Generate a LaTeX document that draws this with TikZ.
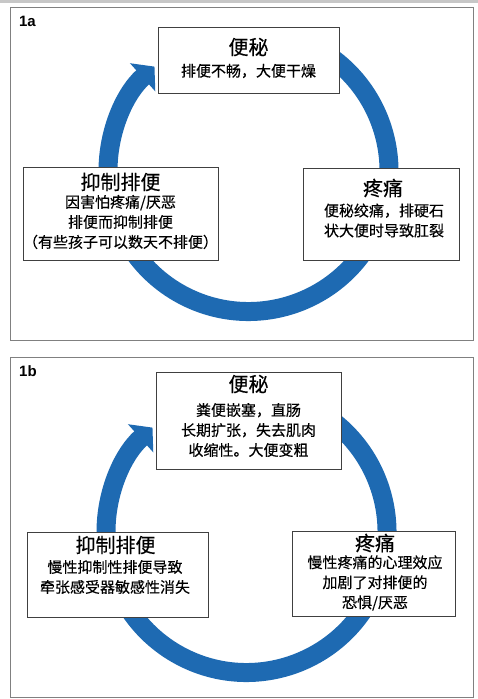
\documentclass[tikz,border=0pt]{standalone}
\usepackage{fontspec}
\setmainfont{Noto Sans CJK SC}[FakeBold=0.3]
\newfontfamily\tagfont{Liberation Sans}
\usetikzlibrary{arrows.meta}
\definecolor{ringblue}{RGB}{30,106,178}
\tikzset{
	panel/.style={draw=black!50, line width=1pt},
	box/.style={draw=black!75, fill=white, line width=0.9pt, inner sep=0pt},
	ttl/.style={font=\fontsize{20}{23}\selectfont},
	txt/.style={font=\fontsize{15}{20}\selectfont, align=center},
	tag/.style={font=\tagfont\bfseries\fontsize{15}{15}\selectfont},
	loopring/.style={ringblue, line width=19pt, -{Triangle[length=16pt,width=37pt]}}
}
\def\ringarc(#1){\draw[loopring] (#1) ++(-62:140.5) arc (-62:228:140.5);}

\begin{document}
\begin{tikzpicture}[x=1pt, y=-1pt]
		%%%%% START %%%%%
		\useasboundingbox (0, 0) rectangle (478, 699);
		\fill[black!22] (0, 0) rectangle (478, 3);
		
		%% panel 1a
		\draw[panel] (10, 7) rectangle (473, 340);
		\node[tag] (tagA) at (27.5, 21.5) {1a};
		\coordinate (ctrA) at (248.5, 171);
		\ringarc(ctrA)
		
		\node[box, minimum width=181pt, minimum height=66pt] (aTop) at (248.5, 60) {};
		\node[ttl] (aTopT) at (248.5, 47) {便秘};
		\node[txt] (aTopB) at (248.5, 71) {排便不畅，大便干燥};
		
		\node[box, minimum width=195pt, minimum height=93pt] (aLeft) at (120.5, 213.5) {};
		\node[ttl] (aLeftT) at (120.5, 182) {抑制排便};
		\node[txt] (aLeftB) at (120.5, 222) {因害怕疼痛/厌恶\\排便而抑制排便\\（有些孩子可以数天不排便）};
		
		\node[box, minimum width=156pt, minimum height=92pt] (aRight) at (381, 214) {};
		\node[ttl] (aRightT) at (383, 188) {疼痛};
		\node[txt] (aRightB) at (384, 220.5) {便秘绞痛，排硬石\\状大便时导致肛裂};
		
		%% panel 1b
		\draw[panel] (10, 357) rectangle (473, 697);
		\node[tag] (tagB) at (28, 371) {1b};
		\coordinate (ctrB) at (246.5, 532);
		\ringarc(ctrB)
		
		\node[box, minimum width=185pt, minimum height=97pt] (bTop) at (248.5, 420.5) {};
		\node[ttl] (bTopT) at (248.5, 384) {便秘};
		\node[txt] (bTopB) at (248.5, 430) {粪便嵌塞，直肠\\长期扩张，失去肌肉\\收缩性。大便变粗};
		
		\node[box, minimum width=181pt, minimum height=85pt] (bLeft) at (117.5, 574.5) {};
		\node[ttl] (bLeftT) at (115.5, 545) {抑制排便};
		\node[txt] (bLeftB) at (115, 577) {慢性抑制性排便导致\\牵张感受器敏感性消失};
		
		\node[box, minimum width=163pt, minimum height=85pt] (bRight) at (373.5, 573.5) {};
		\node[ttl] (bRightT) at (375, 543) {疼痛};
		\node[txt] (bRightB) at (375, 583) {慢性疼痛的心理效应\\加剧了对排便的\\恐惧/厌恶};
		%%%%% END %%%%%
\end{tikzpicture}
\end{document}
